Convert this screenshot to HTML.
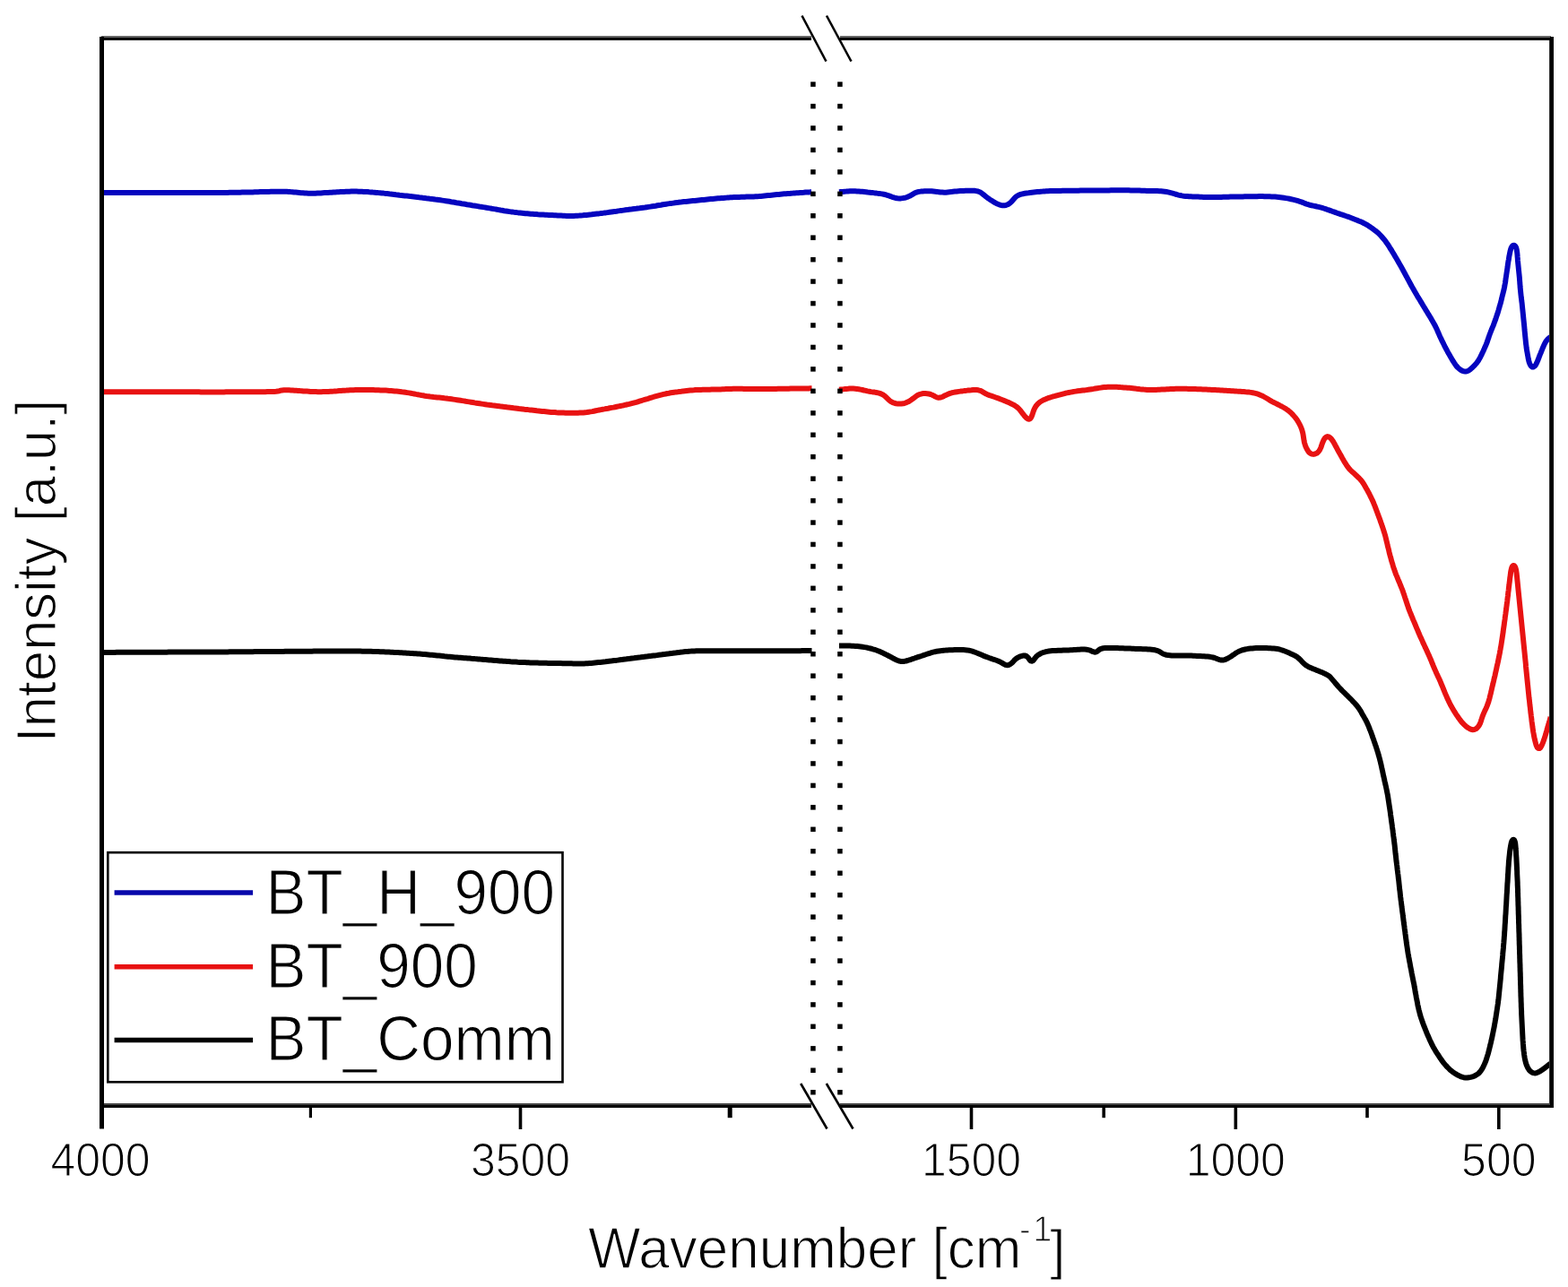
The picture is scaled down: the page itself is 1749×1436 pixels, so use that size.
<!DOCTYPE html>
<html><head><meta charset="utf-8"><title>FTIR spectra</title>
<style>
html,body{margin:0;padding:0;background:#fff;}
body{width:1749px;height:1436px;overflow:hidden;}
svg{display:block;}
text{font-family:"Liberation Sans",Arial,sans-serif;fill:#000;stroke:#fff;stroke-width:1.2px;}
</style></head><body>
<svg width="1749" height="1436" viewBox="0 0 1749 1436">
<rect width="1749" height="1436" fill="#fff"/>
<g fill="none" stroke-width="6" stroke-linejoin="round" stroke-linecap="butt">
<path d="M114.0 215.0L116.0 215.0 118.0 215.0 120.0 215.0 122.0 215.0 124.0 215.0 126.0 215.0 128.0 215.0 130.0 215.0 132.0 215.0 134.0 215.0 136.0 215.0 138.0 215.0 140.0 215.0 142.0 215.0 144.0 215.0 146.0 215.0 148.0 215.0 150.0 215.0 152.0 215.0 154.0 215.0 156.0 215.0 158.0 215.0 160.0 215.0 162.0 215.0 164.0 215.0 166.0 215.0 168.0 215.0 170.0 215.0 172.0 215.0 174.0 215.0 176.0 215.0 178.0 215.0 180.0 215.0 182.0 215.0 184.0 215.0 186.0 215.0 188.0 215.0 190.0 215.0 192.0 215.0 194.0 215.0 196.0 215.0 198.0 215.0 200.0 215.0 202.0 215.0 204.0 215.0 206.0 215.0 208.0 215.0 210.0 215.0 212.0 215.0 214.0 215.0 216.0 215.0 218.0 215.0 220.0 215.0 222.0 215.0 224.0 215.0 226.0 215.0 228.0 215.0 230.0 215.0 232.0 215.0 234.0 215.0 236.0 215.0 238.0 214.9 240.0 214.9 242.0 214.9 244.0 214.9 246.0 214.9 248.0 214.9 250.0 214.9 252.0 214.9 254.0 214.9 256.0 214.8 258.0 214.8 260.0 214.8 262.0 214.8 264.0 214.7 266.0 214.7 268.0 214.7 270.0 214.6 272.0 214.6 274.0 214.6 276.0 214.5 278.0 214.5 280.0 214.4 282.0 214.4 284.0 214.3 286.0 214.3 288.0 214.2 290.0 214.1 292.0 214.1 294.0 214.0 296.0 214.0 298.0 213.9 300.0 213.9 302.0 213.8 304.0 213.8 306.0 213.8 308.0 213.7 310.0 213.7 312.0 213.7 314.0 213.7 316.0 213.7 318.0 213.7 320.0 213.8 322.0 213.9 324.0 214.1 326.0 214.2 328.0 214.4 329.9 214.6 331.9 214.8 333.9 215.0 335.9 215.2 337.9 215.3 339.9 215.5 341.9 215.6 343.9 215.7 345.9 215.8 347.9 215.8 349.9 215.7 351.9 215.7 353.9 215.6 355.9 215.5 357.9 215.4 359.9 215.2 361.9 215.1 363.9 215.0 365.9 214.9 367.9 214.8 369.9 214.7 371.9 214.5 373.9 214.4 375.9 214.3 377.9 214.2 379.8 214.1 381.8 214.0 383.8 213.9 385.8 213.8 387.8 213.7 389.8 213.7 391.8 213.6 393.8 213.6 395.8 213.6 397.8 213.6 399.8 213.7 401.8 213.7 403.8 213.8 405.8 213.9 407.8 214.0 409.8 214.1 411.8 214.3 413.8 214.4 415.8 214.6 417.8 214.7 419.8 214.9 421.8 215.1 423.8 215.2 425.8 215.4 427.8 215.6 429.7 215.9 431.7 216.1 433.7 216.3 435.7 216.6 437.7 216.8 439.7 217.0 441.7 217.3 443.7 217.5 445.6 217.8 447.6 218.0 449.6 218.2 451.6 218.4 453.6 218.6 455.6 218.8 457.6 219.1 459.6 219.3 461.5 219.5 463.5 219.7 465.5 219.9 467.5 220.2 469.5 220.4 471.5 220.7 473.5 220.9 475.4 221.2 477.4 221.4 479.4 221.7 481.4 221.9 483.4 222.2 485.4 222.5 487.3 222.7 489.3 223.0 491.3 223.3 493.3 223.6 495.3 223.9 497.2 224.2 499.2 224.5 501.2 224.8 503.2 225.2 505.1 225.5 507.1 225.8 509.1 226.2 511.0 226.5 513.0 226.8 515.0 227.2 517.0 227.5 518.9 227.8 520.9 228.2 522.9 228.5 524.8 228.8 526.8 229.2 528.8 229.5 530.8 229.8 532.7 230.1 534.7 230.5 536.7 230.8 538.7 231.1 540.6 231.4 542.6 231.8 544.6 232.1 546.5 232.4 548.5 232.8 550.5 233.1 552.5 233.4 554.4 233.8 556.4 234.1 558.4 234.5 560.3 234.8 562.3 235.2 564.3 235.5 566.3 235.8 568.2 236.1 570.2 236.4 572.2 236.6 574.2 236.9 576.2 237.1 578.2 237.4 580.1 237.6 582.1 237.8 584.1 238.0 586.1 238.2 588.1 238.3 590.1 238.5 592.1 238.7 594.1 238.8 596.1 239.0 598.1 239.1 600.1 239.3 602.1 239.4 604.1 239.5 606.1 239.6 608.1 239.7 610.1 239.8 612.1 239.9 614.1 240.0 616.1 240.1 618.0 240.2 620.0 240.3 622.0 240.4 624.0 240.5 626.0 240.6 628.0 240.7 630.0 240.8 632.0 240.9 634.0 240.9 636.0 241.0 638.0 241.0 640.0 240.9 642.0 240.8 644.0 240.7 646.0 240.6 648.0 240.4 650.0 240.3 652.0 240.1 654.0 239.9 656.0 239.7 658.0 239.5 660.0 239.3 661.9 239.0 663.9 238.8 665.9 238.6 667.9 238.4 669.9 238.1 671.9 237.9 673.9 237.6 675.8 237.4 677.8 237.1 679.8 236.8 681.8 236.5 683.8 236.2 685.7 235.9 687.7 235.7 689.7 235.4 691.7 235.1 693.7 234.9 695.6 234.6 697.6 234.3 699.6 234.1 701.6 233.8 703.6 233.6 705.6 233.3 707.5 233.0 709.5 232.8 711.5 232.5 713.5 232.3 715.5 232.0 717.5 231.7 719.4 231.5 721.4 231.2 723.4 230.9 725.4 230.6 727.4 230.3 729.3 230.0 731.3 229.7 733.3 229.3 735.2 229.0 737.2 228.7 739.2 228.3 741.2 228.0 743.1 227.7 745.1 227.4 747.1 227.1 749.1 226.9 751.1 226.6 753.0 226.3 755.0 226.1 757.0 225.8 759.0 225.6 761.0 225.3 763.0 225.1 765.0 224.9 767.0 224.7 768.9 224.5 770.9 224.3 772.9 224.1 774.9 223.9 776.9 223.7 778.9 223.5 780.9 223.3 782.9 223.1 784.9 222.9 786.9 222.7 788.8 222.5 790.8 222.3 792.8 222.1 794.8 221.9 796.8 221.7 798.8 221.5 800.8 221.3 802.8 221.2 804.8 221.0 806.8 220.9 808.8 220.7 810.8 220.6 812.8 220.4 814.7 220.3 816.7 220.2 818.7 220.1 820.7 220.0 822.7 219.9 824.7 219.9 826.7 219.8 828.7 219.8 830.7 219.7 832.7 219.6 834.7 219.6 836.7 219.5 838.7 219.5 840.7 219.4 842.7 219.3 844.7 219.2 846.7 219.1 848.7 218.9 850.7 218.7 852.7 218.5 854.7 218.3 856.7 218.1 858.7 217.9 860.7 217.7 862.6 217.5 864.6 217.3 866.6 217.1 868.6 216.9 870.6 216.7 872.6 216.5 874.6 216.3 876.6 216.2 878.6 216.0 880.6 215.9 882.6 215.7 884.6 215.6 886.6 215.4 888.5 215.3 890.5 215.2 892.5 215.0 894.5 214.9 896.5 214.8 898.5 214.6 900.5 214.5 902.5 214.4 904.5 214.2 905.0 214.2" stroke="#0505bf"/>
<path d="M936.0 214.3L938.0 214.1 940.0 213.9 942.0 213.7 944.0 213.6 946.0 213.4 948.0 213.3 950.0 213.2 952.0 213.2 954.0 213.3 955.9 213.4 957.9 213.5 959.9 213.7 961.9 213.8 963.9 214.0 965.9 214.2 967.9 214.5 969.9 214.7 971.9 214.9 973.9 215.1 975.8 215.4 977.8 215.6 979.8 215.9 981.8 216.1 983.8 216.4 985.7 216.8 987.7 217.2 989.6 217.8 991.5 218.4 993.4 219.1 995.2 219.8 997.1 220.4 999.0 221.0 1001.0 221.3 1003.0 221.4 1005.0 221.4 1006.9 221.1 1008.9 220.8 1010.8 220.3 1012.7 219.6 1014.5 218.8 1016.2 217.8 1017.9 216.8 1019.6 215.8 1021.4 214.9 1023.3 214.3 1025.2 213.9 1027.2 213.6 1029.2 213.4 1031.2 213.3 1033.2 213.2 1035.2 213.2 1037.2 213.2 1039.2 213.3 1041.2 213.5 1043.2 213.7 1045.1 213.9 1047.1 214.2 1049.1 214.5 1051.1 214.6 1053.1 214.7 1055.1 214.7 1057.1 214.5 1059.1 214.3 1061.0 214.1 1063.0 213.8 1065.0 213.6 1067.0 213.4 1069.0 213.2 1071.0 213.1 1073.0 213.0 1075.0 212.9 1077.0 212.8 1079.0 212.7 1081.0 212.7 1083.0 212.7 1085.0 212.7 1087.0 212.8 1088.9 213.1 1090.9 213.5 1092.7 214.2 1094.4 215.1 1096.0 216.3 1097.6 217.6 1099.1 218.9 1100.7 220.1 1102.3 221.3 1103.9 222.4 1105.6 223.5 1107.3 224.6 1109.0 225.6 1110.7 226.6 1112.5 227.5 1114.3 228.2 1116.2 228.9 1118.1 229.3 1120.1 229.3 1122.0 229.0 1123.8 228.3 1125.5 227.3 1127.1 226.1 1128.5 224.8 1129.8 223.3 1131.1 221.8 1132.4 220.3 1133.9 219.0 1135.6 218.0 1137.4 217.2 1139.3 216.6 1141.2 216.2 1143.2 215.8 1145.2 215.5 1147.2 215.3 1149.2 215.0 1151.1 214.7 1153.1 214.5 1155.1 214.3 1157.1 214.1 1159.1 213.9 1161.1 213.7 1163.1 213.6 1165.1 213.4 1167.1 213.3 1169.1 213.2 1171.1 213.1 1173.1 213.0 1175.1 213.0 1177.1 212.9 1179.1 212.9 1181.1 212.9 1183.1 212.9 1185.1 212.8 1187.1 212.8 1189.1 212.8 1191.1 212.8 1193.1 212.8 1195.1 212.7 1197.1 212.7 1199.1 212.7 1201.1 212.7 1203.1 212.7 1205.1 212.6 1207.1 212.6 1209.1 212.6 1211.1 212.6 1213.1 212.6 1215.1 212.5 1217.1 212.5 1219.1 212.5 1221.1 212.5 1223.1 212.5 1225.1 212.4 1227.1 212.4 1229.1 212.4 1231.1 212.4 1233.1 212.4 1235.1 212.4 1237.1 212.4 1239.1 212.3 1241.1 212.3 1243.1 212.3 1245.1 212.3 1247.1 212.3 1249.1 212.3 1251.1 212.3 1253.1 212.3 1255.1 212.3 1257.1 212.3 1259.1 212.3 1261.1 212.4 1263.1 212.4 1265.1 212.4 1267.1 212.5 1269.1 212.5 1271.1 212.6 1273.1 212.7 1275.1 212.7 1277.1 212.8 1279.1 212.9 1281.0 212.9 1283.0 213.0 1285.0 213.0 1287.0 213.0 1289.0 213.1 1291.0 213.1 1293.0 213.2 1295.0 213.3 1297.0 213.5 1299.0 213.7 1301.0 214.0 1302.9 214.4 1304.9 214.9 1306.8 215.4 1308.8 215.9 1310.7 216.5 1312.6 217.0 1314.5 217.6 1316.5 218.0 1318.4 218.4 1320.4 218.7 1322.4 218.9 1324.4 219.0 1326.4 219.2 1328.4 219.3 1330.4 219.4 1332.4 219.5 1334.4 219.6 1336.4 219.6 1338.4 219.7 1340.4 219.8 1342.4 219.9 1344.4 219.9 1346.4 220.0 1348.4 220.0 1350.4 220.1 1352.4 220.1 1354.4 220.1 1356.4 220.1 1358.4 220.1 1360.4 220.0 1362.4 219.9 1364.4 219.8 1366.3 219.8 1368.3 219.7 1370.3 219.7 1372.3 219.6 1374.3 219.6 1376.3 219.5 1378.3 219.5 1380.3 219.5 1382.3 219.4 1384.3 219.4 1386.3 219.4 1388.3 219.3 1390.3 219.3 1392.3 219.3 1394.3 219.2 1396.3 219.2 1398.3 219.2 1400.3 219.2 1402.3 219.2 1404.3 219.1 1406.3 219.1 1408.3 219.1 1410.3 219.2 1412.3 219.2 1414.3 219.2 1416.3 219.3 1418.3 219.4 1420.3 219.5 1422.3 219.6 1424.3 219.8 1426.3 220.0 1428.3 220.2 1430.3 220.5 1432.3 220.8 1434.2 221.1 1436.2 221.4 1438.2 221.8 1440.1 222.2 1442.1 222.6 1444.0 223.1 1446.0 223.6 1447.9 224.2 1449.8 224.8 1451.7 225.4 1453.5 226.1 1455.4 226.9 1457.2 227.6 1459.1 228.2 1461.1 228.8 1463.0 229.2 1465.0 229.6 1466.9 230.0 1468.9 230.5 1470.8 230.9 1472.8 231.4 1474.7 231.9 1476.6 232.5 1478.5 233.1 1480.4 233.8 1482.3 234.4 1484.2 235.1 1486.1 235.8 1487.9 236.4 1489.8 237.1 1491.7 237.8 1493.6 238.4 1495.5 239.1 1497.4 239.7 1499.3 240.3 1501.2 241.0 1503.1 241.6 1505.0 242.3 1506.8 243.0 1508.7 243.7 1510.6 244.5 1512.4 245.2 1514.3 245.9 1516.1 246.7 1518.0 247.4 1519.8 248.3 1521.6 249.2 1523.4 250.1 1525.1 251.1 1526.8 252.2 1528.4 253.3 1530.1 254.4 1531.7 255.6 1533.3 256.8 1534.9 258.0 1536.4 259.3 1537.9 260.6 1539.3 262.0 1540.7 263.5 1542.0 265.0 1543.3 266.5 1544.6 268.0 1545.8 269.6 1546.9 271.3 1548.1 272.9 1549.2 274.6 1550.2 276.3 1551.3 278.0 1552.4 279.7 1553.4 281.4 1554.4 283.1 1555.4 284.8 1556.4 286.5 1557.5 288.3 1558.5 290.0 1559.5 291.7 1560.5 293.5 1561.5 295.2 1562.5 296.9 1563.5 298.7 1564.4 300.4 1565.4 302.2 1566.3 303.9 1567.3 305.7 1568.2 307.5 1569.2 309.2 1570.1 311.0 1571.1 312.7 1572.0 314.5 1573.0 316.3 1573.9 318.0 1574.9 319.8 1575.9 321.5 1576.9 323.2 1577.9 325.0 1578.9 326.7 1579.9 328.4 1580.9 330.2 1581.9 331.9 1583.0 333.6 1584.0 335.3 1585.0 337.0 1586.1 338.7 1587.1 340.4 1588.1 342.1 1589.2 343.8 1590.2 345.6 1591.3 347.3 1592.3 349.0 1593.3 350.7 1594.4 352.4 1595.4 354.1 1596.4 355.8 1597.4 357.6 1598.4 359.3 1599.4 361.0 1600.4 362.8 1601.3 364.5 1602.2 366.3 1603.0 368.1 1603.8 370.0 1604.6 371.8 1605.4 373.7 1606.2 375.5 1607.1 377.3 1607.9 379.1 1608.8 380.9 1609.7 382.7 1610.6 384.5 1611.5 386.3 1612.4 388.0 1613.3 389.8 1614.3 391.6 1615.2 393.3 1616.2 395.1 1617.2 396.8 1618.2 398.6 1619.2 400.3 1620.2 402.0 1621.3 403.7 1622.4 405.4 1623.5 407.0 1624.7 408.6 1626.1 410.1 1627.5 411.4 1629.1 412.6 1630.8 413.6 1632.6 414.3 1634.5 414.5 1636.3 414.2 1638.1 413.5 1639.7 412.4 1641.2 411.1 1642.7 409.7 1644.1 408.3 1645.5 406.9 1646.8 405.4 1648.0 403.8 1649.1 402.2 1650.1 400.4 1651.1 398.7 1652.0 396.9 1652.9 395.1 1653.7 393.3 1654.6 391.5 1655.4 389.6 1656.2 387.8 1657.0 386.0 1657.8 384.1 1658.5 382.3 1659.2 380.4 1659.8 378.5 1660.5 376.6 1661.1 374.7 1661.8 372.8 1662.5 371.0 1663.2 369.1 1664.0 367.3 1664.7 365.4 1665.5 363.6 1666.2 361.7 1666.9 359.8 1667.6 357.9 1668.3 356.1 1668.9 354.2 1669.5 352.3 1670.2 350.4 1670.8 348.5 1671.4 346.5 1671.9 344.6 1672.5 342.7 1673.0 340.8 1673.6 338.9 1674.1 336.9 1674.6 335.0 1675.1 333.0 1675.5 331.1 1676.0 329.2 1676.5 327.2 1677.0 325.3 1677.5 323.3 1677.9 321.4 1678.3 319.4 1678.6 317.5 1679.0 315.5 1679.3 313.5 1679.5 311.5 1679.8 309.6 1680.1 307.6 1680.4 305.6 1680.7 303.6 1681.0 301.6 1681.3 299.7 1681.6 297.7 1681.8 295.7 1682.1 293.7 1682.4 291.7 1682.8 289.8 1683.1 287.8 1683.4 285.8 1683.8 283.9 1684.2 281.9 1684.6 279.9 1685.1 278.0 1685.8 276.2 1686.7 274.6 1687.9 273.7 1689.2 273.8 1690.4 274.8 1691.2 276.4 1691.7 278.3 1692.0 280.3 1692.3 282.2 1692.5 284.2 1692.6 286.2 1692.8 288.2 1692.9 290.2 1693.1 292.2 1693.3 294.2 1693.5 296.2 1693.7 298.2 1693.9 300.2 1694.1 302.2 1694.3 304.2 1694.5 306.1 1694.7 308.1 1694.9 310.1 1695.0 312.1 1695.2 314.1 1695.3 316.1 1695.5 318.1 1695.6 320.1 1695.8 322.1 1696.0 324.1 1696.2 326.1 1696.4 328.1 1696.6 330.0 1696.8 332.0 1697.1 334.0 1697.3 336.0 1697.6 338.0 1697.8 340.0 1698.0 342.0 1698.2 344.0 1698.4 345.9 1698.6 347.9 1698.8 349.9 1699.0 351.9 1699.2 353.9 1699.4 355.9 1699.6 357.9 1699.8 359.9 1700.0 361.9 1700.2 363.9 1700.4 365.9 1700.5 367.8 1700.7 369.8 1700.9 371.8 1701.1 373.8 1701.3 375.8 1701.5 377.8 1701.7 379.8 1701.9 381.8 1702.1 383.8 1702.4 385.7 1702.6 387.7 1702.9 389.7 1703.2 391.7 1703.6 393.7 1703.9 395.6 1704.3 397.6 1704.6 399.6 1705.0 401.5 1705.5 403.5 1706.1 405.3 1706.9 407.1 1707.9 408.6 1709.2 409.5 1710.6 409.4 1712.0 408.4 1713.1 406.9 1714.0 405.2 1714.8 403.4 1715.6 401.5 1716.3 399.7 1717.0 397.8 1717.7 395.9 1718.5 394.1 1719.2 392.2 1720.0 390.4 1720.7 388.5 1721.5 386.7 1722.3 384.8 1723.2 383.0 1724.2 381.3 1725.3 379.7 1726.6 378.3 1728.1 377.0 1729.6 375.9 1730.0 375.6" stroke="#0505bf"/>
<path d="M114.0 437.2L116.0 437.2 118.0 437.2 120.0 437.2 122.0 437.2 124.0 437.2 126.0 437.2 128.0 437.2 130.0 437.2 132.0 437.2 134.0 437.2 136.0 437.2 138.0 437.2 140.0 437.2 142.0 437.2 144.0 437.2 146.0 437.2 148.0 437.2 150.0 437.2 152.0 437.3 154.0 437.3 156.0 437.3 158.0 437.3 160.0 437.3 162.0 437.3 164.0 437.3 166.0 437.3 168.0 437.3 170.0 437.3 172.0 437.3 174.0 437.3 176.0 437.3 178.0 437.3 180.0 437.3 182.0 437.3 184.0 437.3 186.0 437.3 188.0 437.3 190.0 437.3 192.0 437.3 194.0 437.3 196.0 437.3 198.0 437.3 200.0 437.3 202.0 437.3 204.0 437.3 206.0 437.3 208.0 437.3 210.0 437.3 212.0 437.3 214.0 437.3 216.0 437.3 218.0 437.3 220.0 437.3 222.0 437.3 224.0 437.4 226.0 437.4 228.0 437.4 230.0 437.4 232.0 437.4 234.0 437.4 236.0 437.4 238.0 437.4 240.0 437.4 242.0 437.4 244.0 437.4 246.0 437.4 248.0 437.4 250.0 437.4 252.0 437.3 254.0 437.3 256.0 437.3 258.0 437.3 260.0 437.3 262.0 437.3 264.0 437.3 266.0 437.3 268.0 437.3 270.0 437.3 272.0 437.3 274.0 437.3 276.0 437.3 278.0 437.3 280.0 437.3 282.0 437.3 284.0 437.3 286.0 437.3 288.0 437.2 290.0 437.2 292.0 437.2 294.0 437.2 296.0 437.2 298.0 437.1 300.0 437.1 302.0 437.0 304.0 437.0 306.0 436.9 308.0 436.8 309.9 436.5 311.6 436.2 313.2 435.7 314.8 435.4 316.6 435.2 318.5 435.2 320.5 435.2 322.5 435.3 324.5 435.4 326.5 435.5 328.5 435.7 330.5 435.8 332.5 435.9 334.5 436.1 336.5 436.2 338.5 436.4 340.5 436.5 342.5 436.6 344.4 436.7 346.4 436.9 348.4 437.0 350.4 437.0 352.4 437.1 354.4 437.2 356.4 437.2 358.4 437.2 360.4 437.1 362.4 437.1 364.4 437.0 366.4 436.9 368.4 436.8 370.4 436.7 372.4 436.6 374.4 436.4 376.4 436.3 378.4 436.1 380.4 436.0 382.4 435.8 384.4 435.7 386.4 435.6 388.4 435.4 390.4 435.3 392.4 435.2 394.4 435.2 396.4 435.1 398.4 435.1 400.4 435.0 402.4 435.0 404.4 435.0 406.4 435.0 408.4 435.0 410.4 435.0 412.4 435.1 414.4 435.1 416.4 435.1 418.4 435.2 420.4 435.2 422.4 435.3 424.4 435.4 426.4 435.4 428.4 435.5 430.4 435.6 432.4 435.7 434.4 435.9 436.4 436.0 438.3 436.2 440.3 436.4 442.3 436.6 444.3 436.8 446.3 437.0 448.3 437.3 450.3 437.5 452.2 437.8 454.2 438.1 456.2 438.4 458.2 438.7 460.1 439.1 462.1 439.5 464.1 439.9 466.0 440.2 468.0 440.6 470.0 441.0 471.9 441.3 473.9 441.7 475.9 442.0 477.9 442.2 479.8 442.5 481.8 442.7 483.8 443.0 485.8 443.2 487.8 443.4 489.8 443.6 491.8 443.8 493.8 444.0 495.7 444.3 497.7 444.5 499.7 444.8 501.7 445.0 503.7 445.3 505.7 445.6 507.6 445.9 509.6 446.2 511.6 446.5 513.6 446.8 515.5 447.1 517.5 447.4 519.5 447.8 521.5 448.1 523.4 448.4 525.4 448.7 527.4 449.0 529.4 449.4 531.3 449.7 533.3 450.0 535.3 450.3 537.3 450.6 539.2 450.9 541.2 451.2 543.2 451.5 545.2 451.7 547.2 452.0 549.1 452.3 551.1 452.5 553.1 452.8 555.1 453.1 557.1 453.3 559.1 453.6 561.0 453.8 563.0 454.1 565.0 454.3 567.0 454.6 569.0 454.8 571.0 455.0 573.0 455.3 574.9 455.5 576.9 455.7 578.9 456.0 580.9 456.2 582.9 456.4 584.9 456.7 586.9 456.9 588.8 457.1 590.8 457.4 592.8 457.6 594.8 457.8 596.8 458.0 598.8 458.3 600.8 458.5 602.8 458.7 604.7 458.9 606.7 459.1 608.7 459.3 610.7 459.5 612.7 459.7 614.7 459.9 616.7 460.0 618.7 460.1 620.7 460.3 622.7 460.4 624.7 460.5 626.7 460.6 628.7 460.6 630.7 460.7 632.7 460.7 634.7 460.8 636.7 460.8 638.7 460.8 640.7 460.8 642.7 460.8 644.7 460.7 646.7 460.6 648.7 460.5 650.7 460.4 652.7 460.2 654.6 460.0 656.6 459.7 658.6 459.4 660.6 459.1 662.5 458.7 664.5 458.3 666.4 457.9 668.4 457.5 670.4 457.1 672.3 456.7 674.3 456.4 676.3 456.0 678.2 455.7 680.2 455.3 682.2 454.9 684.1 454.6 686.1 454.2 688.1 453.8 690.0 453.4 692.0 453.0 693.9 452.6 695.9 452.2 697.9 451.7 699.8 451.3 701.8 450.9 703.7 450.4 705.6 449.9 707.6 449.4 709.5 448.9 711.4 448.3 713.3 447.7 715.2 447.1 717.1 446.5 719.1 445.9 721.0 445.3 722.9 444.8 724.8 444.2 726.7 443.6 728.6 443.0 730.5 442.4 732.5 441.9 734.4 441.4 736.3 440.9 738.3 440.4 740.2 439.9 742.2 439.5 744.1 439.0 746.1 438.7 748.0 438.3 750.0 438.0 752.0 437.7 754.0 437.4 756.0 437.2 757.9 436.9 759.9 436.7 761.9 436.4 763.9 436.2 765.9 436.0 767.9 435.8 769.9 435.6 771.9 435.4 773.9 435.3 775.9 435.1 777.8 435.0 779.8 434.9 781.8 434.9 783.8 434.8 785.8 434.8 787.8 434.7 789.8 434.7 791.8 434.7 793.8 434.6 795.8 434.6 797.8 434.6 799.8 434.5 801.8 434.5 803.8 434.4 805.8 434.3 807.8 434.2 809.8 434.1 811.8 434.0 813.8 433.9 815.8 433.9 817.8 433.8 819.8 433.8 821.8 433.8 823.8 433.8 825.8 433.8 827.8 433.8 829.8 433.9 831.8 433.9 833.8 433.9 835.8 433.9 837.8 434.0 839.8 434.0 841.8 434.0 843.8 434.0 845.8 434.0 847.8 434.0 849.8 434.0 851.8 434.0 853.8 434.0 855.8 434.0 857.8 433.9 859.8 433.9 861.8 433.9 863.8 433.9 865.8 433.9 867.8 433.8 869.8 433.8 871.8 433.8 873.8 433.8 875.8 433.7 877.8 433.7 879.8 433.7 881.8 433.6 883.8 433.6 885.8 433.6 887.8 433.6 889.8 433.5 891.8 433.5 893.8 433.5 895.8 433.4 897.8 433.4 899.8 433.4 901.8 433.4 903.7 433.3 905.5 433.3" stroke="#e81212"/>
<path d="M936.0 434.8L938.0 434.6 940.0 434.4 942.0 434.1 944.0 433.9 945.9 433.8 947.9 433.6 949.9 433.5 951.9 433.6 953.9 433.7 955.9 433.9 957.9 434.2 959.8 434.6 961.8 435.0 963.7 435.5 965.7 435.9 967.6 436.4 969.6 436.7 971.6 437.1 973.5 437.4 975.5 437.6 977.5 438.0 979.5 438.4 981.4 438.9 983.2 439.6 985.0 440.5 986.6 441.6 988.1 442.9 989.5 444.3 990.9 445.8 992.4 447.1 994.0 448.2 995.7 449.1 997.6 449.8 999.5 450.2 1001.5 450.5 1003.5 450.6 1005.5 450.5 1007.4 450.3 1009.3 449.8 1011.2 449.1 1013.0 448.3 1014.7 447.3 1016.4 446.2 1018.0 445.0 1019.6 443.8 1021.2 442.6 1022.8 441.4 1024.5 440.5 1026.3 439.8 1028.3 439.3 1030.2 439.1 1032.2 439.1 1034.2 439.2 1036.2 439.5 1038.1 440.0 1039.9 440.7 1041.7 441.6 1043.4 442.6 1045.1 443.4 1047.0 443.8 1048.8 443.6 1050.7 443.0 1052.5 442.2 1054.2 441.2 1056.0 440.4 1057.9 439.6 1059.7 438.9 1061.6 438.3 1063.6 437.9 1065.5 437.5 1067.5 437.2 1069.5 436.9 1071.5 436.6 1073.5 436.4 1075.4 436.1 1077.4 435.9 1079.4 435.6 1081.4 435.4 1083.4 435.3 1085.4 435.1 1087.4 435.0 1089.4 435.1 1091.3 435.3 1093.2 435.8 1095.0 436.6 1096.7 437.6 1098.4 438.6 1100.1 439.6 1102.0 440.4 1103.8 441.1 1105.7 441.7 1107.6 442.3 1109.5 443.0 1111.4 443.7 1113.3 444.3 1115.1 445.1 1117.0 445.8 1118.9 446.5 1120.7 447.3 1122.6 448.1 1124.4 448.8 1126.2 449.6 1128.0 450.5 1129.8 451.4 1131.6 452.3 1133.3 453.4 1134.8 454.6 1136.3 455.9 1137.6 457.4 1138.9 459.0 1140.1 460.6 1141.3 462.2 1142.5 463.7 1143.8 465.2 1145.2 466.6 1146.6 467.5 1148.1 467.7 1149.4 466.9 1150.4 465.4 1151.1 463.6 1151.8 461.7 1152.4 459.8 1153.1 457.9 1153.8 456.1 1154.8 454.3 1155.8 452.7 1157.1 451.2 1158.5 449.8 1160.1 448.5 1161.8 447.5 1163.5 446.5 1165.3 445.7 1167.2 444.9 1169.0 444.2 1170.9 443.6 1172.8 443.0 1174.7 442.4 1176.7 441.9 1178.6 441.3 1180.5 440.8 1182.5 440.3 1184.4 439.8 1186.3 439.3 1188.3 438.8 1190.2 438.4 1192.2 438.0 1194.2 437.6 1196.1 437.3 1198.1 436.9 1200.1 436.6 1202.0 436.3 1204.0 436.1 1206.0 435.8 1208.0 435.6 1210.0 435.4 1212.0 435.1 1214.0 434.8 1215.9 434.5 1217.9 434.2 1219.9 433.9 1221.8 433.5 1223.8 433.2 1225.8 432.9 1227.8 432.6 1229.8 432.3 1231.7 432.1 1233.7 431.9 1235.7 431.8 1237.7 431.7 1239.7 431.7 1241.7 431.7 1243.7 431.7 1245.7 431.8 1247.7 431.9 1249.7 432.1 1251.7 432.2 1253.7 432.4 1255.7 432.5 1257.7 432.7 1259.7 432.8 1261.7 433.0 1263.7 433.2 1265.6 433.4 1267.6 433.7 1269.6 433.9 1271.6 434.2 1273.6 434.4 1275.6 434.6 1277.6 434.7 1279.6 434.9 1281.6 434.9 1283.6 435.0 1285.6 435.0 1287.6 434.9 1289.6 434.9 1291.6 434.8 1293.6 434.7 1295.6 434.6 1297.6 434.5 1299.5 434.4 1301.5 434.3 1303.5 434.2 1305.5 434.1 1307.5 434.0 1309.5 433.9 1311.5 433.8 1313.5 433.8 1315.5 433.8 1317.5 433.8 1319.5 433.8 1321.5 433.8 1323.5 433.8 1325.5 433.9 1327.5 433.9 1329.5 434.0 1331.5 434.0 1333.5 434.1 1335.5 434.2 1337.5 434.2 1339.5 434.3 1341.5 434.4 1343.5 434.5 1345.5 434.6 1347.5 434.7 1349.5 434.8 1351.5 434.9 1353.5 435.0 1355.5 435.1 1357.5 435.2 1359.5 435.3 1361.5 435.4 1363.5 435.5 1365.5 435.7 1367.5 435.8 1369.5 435.9 1371.5 436.0 1373.5 436.2 1375.5 436.3 1377.5 436.4 1379.5 436.6 1381.5 436.7 1383.5 436.8 1385.4 437.0 1387.4 437.1 1389.4 437.3 1391.4 437.4 1393.4 437.6 1395.4 437.9 1397.4 438.2 1399.3 438.6 1401.3 439.1 1403.2 439.7 1405.0 440.4 1406.9 441.2 1408.7 442.0 1410.4 443.0 1412.2 444.0 1413.9 445.0 1415.6 446.1 1417.3 447.1 1419.0 448.1 1420.8 449.0 1422.6 449.9 1424.4 450.8 1426.2 451.7 1427.9 452.6 1429.7 453.5 1431.5 454.5 1433.2 455.5 1434.9 456.6 1436.5 457.7 1438.1 459.0 1439.6 460.3 1441.0 461.6 1442.4 463.1 1443.7 464.6 1445.0 466.1 1446.2 467.7 1447.3 469.4 1448.3 471.1 1449.3 472.9 1450.2 474.6 1451.0 476.4 1451.8 478.3 1452.4 480.2 1452.9 482.1 1453.4 484.1 1453.7 486.0 1454.0 488.0 1454.3 490.0 1454.6 491.9 1455.0 493.9 1455.6 495.8 1456.2 497.7 1457.0 499.5 1457.9 501.3 1458.9 503.0 1460.1 504.6 1461.5 505.8 1463.2 506.6 1465.0 506.9 1466.8 506.5 1468.6 505.8 1470.1 504.6 1471.4 503.1 1472.4 501.4 1473.2 499.6 1473.9 497.8 1474.5 495.9 1475.2 494.0 1476.0 492.1 1476.8 490.4 1477.9 488.8 1479.2 487.6 1480.7 487.1 1482.3 487.5 1483.8 488.5 1485.1 489.9 1486.3 491.5 1487.4 493.2 1488.4 494.9 1489.3 496.7 1490.3 498.5 1491.2 500.2 1492.1 502.0 1493.1 503.7 1494.1 505.5 1495.1 507.2 1496.1 509.0 1497.0 510.7 1498.0 512.4 1499.0 514.2 1500.0 515.9 1501.1 517.6 1502.1 519.3 1503.3 520.9 1504.5 522.5 1505.8 524.0 1507.2 525.4 1508.7 526.8 1510.2 528.1 1511.7 529.4 1513.1 530.8 1514.6 532.2 1516.0 533.5 1517.4 535.0 1518.7 536.5 1519.9 538.1 1521.0 539.8 1522.0 541.5 1523.0 543.2 1524.0 545.0 1525.0 546.7 1525.9 548.5 1526.9 550.2 1527.8 552.0 1528.7 553.8 1529.6 555.6 1530.4 557.4 1531.3 559.2 1532.1 561.0 1532.8 562.9 1533.6 564.7 1534.3 566.6 1535.0 568.5 1535.7 570.3 1536.4 572.2 1537.1 574.1 1537.8 576.0 1538.5 577.9 1539.2 579.7 1539.8 581.6 1540.5 583.5 1541.2 585.4 1541.8 587.3 1542.5 589.2 1543.1 591.1 1543.7 593.0 1544.3 594.9 1544.9 596.8 1545.4 598.7 1545.9 600.7 1546.3 602.6 1546.8 604.6 1547.3 606.5 1547.7 608.5 1548.2 610.4 1548.7 612.3 1549.2 614.3 1549.6 616.2 1550.1 618.2 1550.6 620.1 1551.2 622.0 1551.7 624.0 1552.2 625.9 1552.8 627.8 1553.4 629.7 1553.9 631.6 1554.5 633.5 1555.2 635.4 1555.8 637.3 1556.5 639.2 1557.2 641.1 1558.0 642.9 1558.8 644.8 1559.5 646.6 1560.3 648.5 1561.1 650.3 1561.8 652.2 1562.6 654.0 1563.3 655.9 1564.1 657.7 1564.8 659.6 1565.4 661.5 1566.1 663.4 1566.7 665.3 1567.3 667.2 1568.0 669.1 1568.6 671.0 1569.2 672.9 1569.8 674.8 1570.5 676.7 1571.1 678.6 1571.8 680.4 1572.5 682.3 1573.3 684.2 1574.0 686.0 1574.8 687.9 1575.6 689.7 1576.3 691.6 1577.1 693.4 1577.9 695.2 1578.7 697.1 1579.4 698.9 1580.2 700.8 1581.0 702.6 1581.8 704.5 1582.5 706.3 1583.3 708.1 1584.1 710.0 1585.0 711.8 1585.8 713.6 1586.6 715.4 1587.4 717.3 1588.3 719.1 1589.1 720.9 1589.9 722.7 1590.8 724.5 1591.6 726.3 1592.4 728.2 1593.3 730.0 1594.1 731.8 1594.9 733.6 1595.7 735.5 1596.5 737.3 1597.2 739.2 1598.0 741.0 1598.7 742.9 1599.5 744.7 1600.3 746.6 1601.1 748.4 1601.9 750.2 1602.7 752.0 1603.6 753.9 1604.4 755.7 1605.3 757.5 1606.1 759.3 1606.9 761.1 1607.6 763.0 1608.4 764.8 1609.2 766.7 1609.9 768.5 1610.7 770.4 1611.4 772.2 1612.2 774.1 1613.0 775.9 1613.8 777.7 1614.6 779.6 1615.5 781.4 1616.3 783.2 1617.2 785.0 1618.1 786.8 1619.1 788.5 1620.1 790.3 1621.1 792.0 1622.1 793.7 1623.2 795.4 1624.3 797.1 1625.4 798.7 1626.5 800.4 1627.7 802.0 1628.9 803.6 1630.1 805.2 1631.4 806.7 1632.8 808.1 1634.2 809.5 1635.8 810.8 1637.4 812.0 1639.1 813.0 1640.8 813.8 1642.7 814.2 1644.5 814.0 1646.2 813.3 1647.7 812.1 1649.0 810.6 1650.1 809.0 1651.0 807.2 1651.7 805.3 1652.3 803.5 1652.9 801.5 1653.5 799.6 1654.2 797.8 1655.0 795.9 1655.8 794.1 1656.6 792.3 1657.5 790.5 1658.3 788.6 1659.0 786.8 1659.7 784.9 1660.4 783.0 1660.9 781.1 1661.5 779.2 1661.9 777.2 1662.4 775.3 1662.9 773.4 1663.3 771.4 1663.8 769.5 1664.2 767.5 1664.7 765.6 1665.2 763.6 1665.6 761.7 1666.1 759.7 1666.5 757.8 1667.0 755.8 1667.5 753.9 1667.9 751.9 1668.3 750.0 1668.8 748.0 1669.2 746.1 1669.6 744.1 1670.0 742.2 1670.5 740.2 1670.9 738.3 1671.3 736.3 1671.7 734.3 1672.1 732.4 1672.5 730.4 1672.9 728.5 1673.2 726.5 1673.6 724.5 1673.9 722.5 1674.3 720.6 1674.6 718.6 1674.9 716.6 1675.2 714.7 1675.5 712.7 1675.8 710.7 1676.1 708.7 1676.4 706.7 1676.7 704.8 1676.9 702.8 1677.2 700.8 1677.5 698.8 1677.8 696.8 1678.0 694.9 1678.3 692.9 1678.6 690.9 1678.8 688.9 1679.1 686.9 1679.4 684.9 1679.6 683.0 1679.9 681.0 1680.2 679.0 1680.4 677.0 1680.7 675.0 1680.9 673.0 1681.2 671.1 1681.4 669.1 1681.6 667.1 1681.9 665.1 1682.1 663.1 1682.3 661.1 1682.6 659.1 1682.8 657.2 1683.0 655.2 1683.3 653.2 1683.5 651.2 1683.8 649.2 1684.0 647.2 1684.2 645.2 1684.5 643.3 1684.8 641.3 1685.0 639.3 1685.3 637.3 1685.7 635.4 1686.2 633.5 1686.9 631.9 1687.9 631.0 1689.0 631.2 1690.0 632.4 1690.6 634.1 1691.1 636.0 1691.4 638.0 1691.7 640.0 1691.9 642.0 1692.1 643.9 1692.3 645.9 1692.5 647.9 1692.7 649.9 1692.9 651.9 1693.1 653.9 1693.3 655.9 1693.5 657.9 1693.7 659.9 1693.9 661.9 1694.1 663.9 1694.3 665.8 1694.5 667.8 1694.7 669.8 1694.9 671.8 1695.1 673.8 1695.3 675.8 1695.5 677.8 1695.7 679.8 1695.9 681.8 1696.1 683.7 1696.3 685.7 1696.5 687.7 1696.7 689.7 1696.9 691.7 1697.1 693.7 1697.3 695.7 1697.5 697.7 1697.7 699.7 1697.9 701.7 1698.1 703.6 1698.3 705.6 1698.5 707.6 1698.7 709.6 1698.9 711.6 1699.1 713.6 1699.3 715.6 1699.5 717.6 1699.7 719.6 1699.9 721.6 1700.1 723.6 1700.3 725.5 1700.5 727.5 1700.7 729.5 1700.9 731.5 1701.1 733.5 1701.3 735.5 1701.5 737.5 1701.7 739.5 1701.9 741.5 1702.0 743.5 1702.2 745.4 1702.4 747.4 1702.6 749.4 1702.8 751.4 1703.0 753.4 1703.2 755.4 1703.4 757.4 1703.6 759.4 1703.8 761.4 1704.0 763.4 1704.2 765.3 1704.4 767.3 1704.6 769.3 1704.8 771.3 1705.0 773.3 1705.2 775.3 1705.4 777.3 1705.6 779.3 1705.9 781.3 1706.1 783.2 1706.3 785.2 1706.5 787.2 1706.8 789.2 1707.0 791.2 1707.2 793.2 1707.4 795.2 1707.7 797.2 1707.9 799.1 1708.2 801.1 1708.4 803.1 1708.6 805.1 1708.9 807.1 1709.2 809.1 1709.4 811.0 1709.7 813.0 1710.0 815.0 1710.3 817.0 1710.7 819.0 1711.0 820.9 1711.4 822.9 1711.8 824.8 1712.3 826.8 1712.8 828.7 1713.3 830.6 1714.0 832.5 1714.8 834.1 1715.9 835.1 1717.1 835.1 1718.3 834.1 1719.3 832.5 1720.1 830.7 1720.9 828.9 1721.6 827.0 1722.3 825.1 1722.9 823.2 1723.5 821.3 1724.1 819.4 1724.6 817.5 1725.2 815.6 1725.7 813.6 1726.3 811.7 1726.8 809.8 1727.4 807.9 1727.9 806.0 1728.5 804.1 1729.0 802.2 1729.5 800.4 1729.6 800.0" stroke="#e81212"/>
<path d="M114.0 727.9L116.0 727.9 118.0 727.9 120.0 727.9 122.0 727.9 124.0 727.9 126.0 727.9 128.0 727.9 130.0 727.8 132.0 727.8 134.0 727.8 136.0 727.8 138.0 727.8 140.0 727.8 142.0 727.8 144.0 727.8 146.0 727.8 148.0 727.8 150.0 727.8 152.0 727.8 154.0 727.8 156.0 727.8 158.0 727.8 160.0 727.7 162.0 727.7 164.0 727.7 166.0 727.7 168.0 727.7 170.0 727.7 172.0 727.7 174.0 727.7 176.0 727.7 178.0 727.7 180.0 727.7 182.0 727.7 184.0 727.7 186.0 727.7 188.0 727.6 190.0 727.6 192.0 727.6 194.0 727.6 196.0 727.6 198.0 727.6 200.0 727.6 202.0 727.6 204.0 727.6 206.0 727.6 208.0 727.6 210.0 727.6 212.0 727.6 214.0 727.5 216.0 727.5 218.0 727.5 220.0 727.5 222.0 727.5 224.0 727.5 226.0 727.5 228.0 727.5 230.0 727.5 232.0 727.5 234.0 727.5 236.0 727.5 238.0 727.4 240.0 727.4 242.0 727.4 244.0 727.4 246.0 727.4 248.0 727.4 250.0 727.4 252.0 727.4 254.0 727.4 256.0 727.3 258.0 727.3 260.0 727.3 262.0 727.3 264.0 727.3 266.0 727.3 268.0 727.3 270.0 727.2 272.0 727.2 274.0 727.2 276.0 727.2 278.0 727.2 280.0 727.2 282.0 727.2 284.0 727.1 286.0 727.1 288.0 727.1 290.0 727.1 292.0 727.1 294.0 727.0 296.0 727.0 298.0 727.0 300.0 727.0 302.0 727.0 304.0 727.0 306.0 726.9 308.0 726.9 310.0 726.9 312.0 726.9 314.0 726.9 316.0 726.9 318.0 726.8 320.0 726.8 322.0 726.8 324.0 726.8 326.0 726.8 328.0 726.8 330.0 726.7 332.0 726.7 334.0 726.7 336.0 726.7 338.0 726.7 340.0 726.7 342.0 726.7 344.0 726.7 346.0 726.7 348.0 726.7 350.0 726.6 352.0 726.6 354.0 726.6 356.0 726.6 358.0 726.6 360.0 726.6 362.0 726.6 364.0 726.6 366.0 726.6 368.0 726.6 370.0 726.6 372.0 726.5 374.0 726.5 376.0 726.5 378.0 726.5 380.0 726.5 382.0 726.5 384.0 726.5 386.0 726.5 388.0 726.5 390.0 726.5 392.0 726.6 394.0 726.6 396.0 726.6 398.0 726.6 400.0 726.6 402.0 726.6 404.0 726.7 406.0 726.7 408.0 726.7 410.0 726.8 412.0 726.8 414.0 726.8 416.0 726.9 418.0 727.0 420.0 727.0 422.0 727.1 424.0 727.2 426.0 727.2 428.0 727.3 430.0 727.4 432.0 727.5 434.0 727.6 436.0 727.7 438.0 727.8 440.0 727.9 442.0 728.0 444.0 728.1 446.0 728.2 448.0 728.3 450.0 728.4 452.0 728.5 454.0 728.7 455.9 728.8 457.9 728.9 459.9 729.0 461.9 729.2 463.9 729.3 465.9 729.5 467.9 729.6 469.9 729.8 471.9 730.0 473.9 730.1 475.9 730.3 477.9 730.5 479.9 730.7 481.9 730.8 483.9 731.0 485.8 731.2 487.8 731.4 489.8 731.6 491.8 731.8 493.8 732.0 495.8 732.3 497.8 732.5 499.8 732.7 501.8 732.8 503.8 733.0 505.7 733.2 507.7 733.4 509.7 733.5 511.7 733.7 513.7 733.8 515.7 734.0 517.7 734.2 519.7 734.3 521.7 734.5 523.7 734.6 525.7 734.8 527.7 734.9 529.7 735.1 531.7 735.2 533.7 735.4 535.7 735.6 537.6 735.7 539.6 735.9 541.6 736.0 543.6 736.2 545.6 736.4 547.6 736.5 549.6 736.7 551.6 736.9 553.6 737.0 555.6 737.2 557.6 737.4 559.6 737.5 561.6 737.7 563.6 737.8 565.6 738.0 567.5 738.1 569.5 738.3 571.5 738.4 573.5 738.5 575.5 738.6 577.5 738.8 579.5 738.9 581.5 739.0 583.5 739.1 585.5 739.1 587.5 739.2 589.5 739.3 591.5 739.4 593.5 739.4 595.5 739.5 597.5 739.6 599.5 739.6 601.5 739.7 603.5 739.7 605.5 739.8 607.5 739.8 609.5 739.8 611.5 739.9 613.5 739.9 615.5 740.0 617.5 740.0 619.5 740.0 621.5 740.1 623.5 740.1 625.5 740.1 627.5 740.2 629.5 740.2 631.5 740.2 633.5 740.3 635.5 740.3 637.5 740.3 639.5 740.4 641.5 740.4 643.5 740.4 645.5 740.5 647.5 740.5 649.5 740.4 651.5 740.4 653.5 740.3 655.5 740.2 657.5 740.0 659.5 739.9 661.5 739.7 663.5 739.5 665.5 739.3 667.4 739.1 669.4 738.9 671.4 738.7 673.4 738.5 675.4 738.3 677.4 738.0 679.4 737.8 681.4 737.6 683.3 737.3 685.3 737.1 687.3 736.9 689.3 736.6 691.3 736.3 693.3 736.1 695.3 735.8 697.2 735.6 699.2 735.3 701.2 735.1 703.2 734.8 705.2 734.5 707.2 734.3 709.1 734.0 711.1 733.8 713.1 733.6 715.1 733.3 717.1 733.1 719.1 732.8 721.0 732.6 723.0 732.3 725.0 732.1 727.0 731.8 729.0 731.6 731.0 731.4 733.0 731.1 734.9 730.8 736.9 730.6 738.9 730.3 740.9 730.1 742.9 729.8 744.9 729.6 746.8 729.3 748.8 729.1 750.8 728.8 752.8 728.6 754.8 728.3 756.8 728.1 758.7 727.8 760.7 727.6 762.7 727.3 764.7 727.1 766.7 726.9 768.7 726.7 770.7 726.6 772.7 726.4 774.7 726.4 776.7 726.3 778.7 726.3 780.7 726.3 782.7 726.2 784.7 726.2 786.7 726.2 788.7 726.2 790.7 726.2 792.7 726.3 794.7 726.3 796.7 726.3 798.7 726.3 800.7 726.3 802.7 726.3 804.7 726.3 806.7 726.3 808.7 726.3 810.7 726.3 812.7 726.3 814.7 726.3 816.7 726.3 818.7 726.3 820.7 726.3 822.7 726.3 824.7 726.3 826.7 726.3 828.7 726.3 830.7 726.3 832.7 726.3 834.7 726.3 836.7 726.3 838.7 726.3 840.7 726.3 842.7 726.3 844.7 726.3 846.7 726.3 848.7 726.3 850.7 726.3 852.7 726.3 854.7 726.3 856.7 726.3 858.7 726.3 860.7 726.3 862.7 726.3 864.7 726.3 866.7 726.2 868.7 726.2 870.7 726.2 872.7 726.2 874.7 726.2 876.7 726.2 878.7 726.2 880.7 726.2 882.7 726.2 884.7 726.2 886.7 726.2 888.7 726.2 890.7 726.2 892.7 726.2 894.7 726.1 896.7 726.1 898.7 726.1 900.7 726.1 902.6 726.1 904.6 726.1 905.5 726.1" stroke="#000"/>
<path d="M936.0 720.4L938.0 720.4 940.0 720.5 942.0 720.5 944.0 720.5 946.0 720.6 948.0 720.6 950.0 720.7 952.0 720.8 954.0 720.9 956.0 721.1 958.0 721.3 960.0 721.5 961.9 721.8 963.9 722.1 965.9 722.4 967.8 722.8 969.8 723.3 971.7 723.7 973.7 724.3 975.6 724.8 977.5 725.5 979.3 726.2 981.2 726.9 983.0 727.8 984.8 728.6 986.6 729.5 988.4 730.4 990.2 731.3 992.0 732.2 993.8 733.1 995.5 734.1 997.2 735.0 999.0 736.0 1000.8 736.8 1002.7 737.5 1004.6 737.9 1006.6 738.0 1008.5 737.9 1010.5 737.5 1012.4 737.0 1014.3 736.4 1016.2 735.8 1018.1 735.1 1020.0 734.5 1021.9 733.8 1023.8 733.2 1025.7 732.6 1027.6 732.0 1029.5 731.3 1031.4 730.7 1033.3 730.0 1035.2 729.4 1037.1 728.8 1039.0 728.2 1040.9 727.7 1042.9 727.2 1044.8 726.8 1046.8 726.5 1048.8 726.2 1050.8 725.9 1052.7 725.7 1054.7 725.6 1056.7 725.4 1058.7 725.3 1060.7 725.2 1062.7 725.2 1064.7 725.1 1066.7 725.1 1068.7 725.0 1070.7 725.0 1072.7 725.0 1074.7 725.1 1076.7 725.2 1078.7 725.4 1080.7 725.7 1082.6 726.2 1084.5 726.7 1086.4 727.3 1088.3 728.0 1090.2 728.7 1092.0 729.5 1093.9 730.3 1095.7 731.1 1097.5 731.9 1099.4 732.6 1101.3 733.3 1103.2 734.0 1105.0 734.6 1106.9 735.3 1108.8 735.9 1110.7 736.5 1112.6 737.2 1114.4 738.0 1116.2 738.9 1118.0 739.9 1119.6 740.9 1121.4 741.8 1123.1 742.2 1124.9 742.0 1126.7 741.2 1128.2 740.1 1129.7 738.7 1131.0 737.3 1132.3 735.8 1133.8 734.6 1135.5 733.6 1137.3 732.7 1139.2 732.1 1141.1 731.6 1143.0 731.5 1144.7 732.0 1146.2 733.1 1147.4 734.5 1148.4 736.1 1149.6 737.3 1150.9 737.7 1152.2 737.2 1153.4 735.9 1154.5 734.3 1155.7 732.8 1157.2 731.4 1158.8 730.3 1160.5 729.3 1162.3 728.5 1164.2 727.8 1166.1 727.3 1168.0 726.9 1170.0 726.5 1172.0 726.3 1174.0 726.1 1176.0 726.0 1178.0 725.9 1180.0 725.8 1182.0 725.7 1184.0 725.7 1186.0 725.6 1188.0 725.6 1190.0 725.5 1192.0 725.4 1194.0 725.3 1196.0 725.2 1198.0 725.0 1200.0 724.9 1202.0 724.8 1204.0 724.7 1205.9 724.6 1207.9 724.6 1209.9 724.6 1211.9 724.7 1213.9 725.1 1215.8 725.6 1217.6 726.4 1219.3 727.2 1221.0 727.7 1222.6 727.6 1224.0 726.7 1225.4 725.5 1226.9 724.4 1228.7 723.7 1230.6 723.3 1232.6 723.1 1234.6 723.0 1236.6 723.0 1238.6 722.9 1240.6 723.0 1242.6 723.0 1244.6 723.0 1246.6 723.1 1248.6 723.2 1250.6 723.2 1252.6 723.3 1254.6 723.4 1256.6 723.5 1258.6 723.5 1260.6 723.6 1262.6 723.7 1264.6 723.8 1266.6 723.9 1268.6 724.0 1270.6 724.0 1272.6 724.1 1274.6 724.2 1276.6 724.3 1278.5 724.3 1280.5 724.5 1282.5 724.6 1284.5 724.8 1286.5 725.0 1288.5 725.3 1290.4 725.8 1292.2 726.5 1294.0 727.4 1295.6 728.5 1297.3 729.5 1299.2 730.2 1301.1 730.8 1303.0 731.1 1305.0 731.2 1307.0 731.4 1309.0 731.4 1311.0 731.5 1313.0 731.5 1315.0 731.5 1317.0 731.5 1319.0 731.5 1321.0 731.5 1323.0 731.5 1325.0 731.5 1327.0 731.6 1329.0 731.6 1331.0 731.7 1333.0 731.8 1335.0 731.9 1337.0 732.0 1339.0 732.1 1341.0 732.2 1343.0 732.3 1345.0 732.5 1347.0 732.6 1349.0 732.8 1350.9 733.1 1352.9 733.5 1354.8 734.0 1356.7 734.7 1358.5 735.5 1360.4 736.1 1362.3 736.6 1364.2 736.6 1366.1 736.1 1367.9 735.4 1369.7 734.5 1371.4 733.5 1373.1 732.5 1374.7 731.3 1376.4 730.2 1378.0 729.1 1379.7 728.0 1381.5 727.0 1383.3 726.2 1385.1 725.5 1387.1 725.0 1389.0 724.5 1391.0 724.1 1392.9 723.8 1394.9 723.6 1396.9 723.4 1398.9 723.2 1400.9 723.1 1402.9 723.0 1404.9 723.0 1406.9 723.0 1408.9 723.0 1410.9 723.1 1412.9 723.1 1414.9 723.2 1416.9 723.3 1418.9 723.4 1420.9 723.5 1422.9 723.7 1424.8 724.0 1426.8 724.4 1428.7 725.0 1430.6 725.6 1432.5 726.3 1434.3 727.0 1436.2 727.8 1438.0 728.6 1439.8 729.4 1441.7 730.2 1443.5 731.1 1445.2 732.0 1446.9 733.1 1448.4 734.3 1449.9 735.7 1451.3 737.1 1452.6 738.6 1454.0 740.0 1455.5 741.3 1457.1 742.5 1458.8 743.6 1460.6 744.5 1462.4 745.3 1464.2 746.1 1466.1 746.8 1468.0 747.6 1469.8 748.3 1471.7 749.1 1473.5 749.8 1475.4 750.6 1477.2 751.4 1479.0 752.3 1480.7 753.2 1482.4 754.3 1483.9 755.6 1485.2 757.1 1486.5 758.6 1487.8 760.1 1489.1 761.7 1490.4 763.2 1491.7 764.7 1493.0 766.2 1494.4 767.7 1495.7 769.1 1497.1 770.6 1498.5 772.0 1500.0 773.4 1501.4 774.8 1502.8 776.2 1504.2 777.6 1505.6 779.0 1507.1 780.4 1508.4 781.9 1509.8 783.3 1511.2 784.8 1512.5 786.3 1513.8 787.8 1515.0 789.4 1516.2 791.0 1517.2 792.7 1518.3 794.4 1519.2 796.2 1520.2 797.9 1521.2 799.6 1522.2 801.4 1523.2 803.1 1524.1 804.9 1525.0 806.7 1525.8 808.5 1526.6 810.4 1527.3 812.2 1528.0 814.1 1528.8 815.9 1529.5 817.8 1530.2 819.7 1530.8 821.6 1531.5 823.5 1532.2 825.3 1532.8 827.2 1533.5 829.1 1534.1 831.0 1534.8 832.9 1535.4 834.8 1536.0 836.7 1536.6 838.6 1537.2 840.5 1537.7 842.5 1538.3 844.4 1538.8 846.3 1539.3 848.3 1539.8 850.2 1540.2 852.1 1540.7 854.1 1541.1 856.0 1541.5 858.0 1542.0 859.9 1542.4 861.9 1542.8 863.9 1543.2 865.8 1543.7 867.8 1544.1 869.7 1544.5 871.7 1545.0 873.6 1545.4 875.6 1545.9 877.5 1546.3 879.5 1546.7 881.4 1547.1 883.4 1547.5 885.3 1547.9 887.3 1548.2 889.3 1548.5 891.3 1548.8 893.2 1549.1 895.2 1549.4 897.2 1549.7 899.2 1550.0 901.1 1550.3 903.1 1550.6 905.1 1550.9 907.1 1551.1 909.1 1551.4 911.1 1551.7 913.0 1551.9 915.0 1552.2 917.0 1552.5 919.0 1552.8 921.0 1553.0 922.9 1553.3 924.9 1553.6 926.9 1553.8 928.9 1554.1 930.9 1554.3 932.9 1554.6 934.8 1554.8 936.8 1555.1 938.8 1555.3 940.8 1555.6 942.8 1555.8 944.8 1556.0 946.8 1556.2 948.7 1556.4 950.7 1556.6 952.7 1556.9 954.7 1557.1 956.7 1557.3 958.7 1557.5 960.7 1557.8 962.7 1558.0 964.6 1558.3 966.6 1558.5 968.6 1558.7 970.6 1559.0 972.6 1559.2 974.6 1559.5 976.6 1559.7 978.5 1559.9 980.5 1560.2 982.5 1560.4 984.5 1560.6 986.5 1560.8 988.5 1561.0 990.5 1561.2 992.5 1561.5 994.4 1561.7 996.4 1561.9 998.4 1562.1 1000.4 1562.4 1002.4 1562.6 1004.4 1562.9 1006.4 1563.1 1008.3 1563.4 1010.3 1563.6 1012.3 1563.9 1014.3 1564.1 1016.3 1564.4 1018.3 1564.7 1020.2 1564.9 1022.2 1565.2 1024.2 1565.4 1026.2 1565.7 1028.2 1565.9 1030.2 1566.2 1032.1 1566.5 1034.1 1566.7 1036.1 1567.0 1038.1 1567.3 1040.1 1567.5 1042.1 1567.8 1044.0 1568.0 1046.0 1568.3 1048.0 1568.6 1050.0 1568.8 1052.0 1569.1 1054.0 1569.4 1055.9 1569.7 1057.9 1570.0 1059.9 1570.3 1061.9 1570.6 1063.8 1571.0 1065.8 1571.3 1067.8 1571.7 1069.7 1572.0 1071.7 1572.4 1073.7 1572.8 1075.6 1573.1 1077.6 1573.5 1079.6 1573.9 1081.5 1574.3 1083.5 1574.6 1085.5 1575.0 1087.4 1575.4 1089.4 1575.8 1091.3 1576.2 1093.3 1576.6 1095.3 1577.0 1097.2 1577.4 1099.2 1577.7 1101.2 1578.1 1103.1 1578.4 1105.1 1578.7 1107.1 1579.1 1109.0 1579.5 1111.0 1579.8 1113.0 1580.2 1114.9 1580.6 1116.9 1581.0 1118.9 1581.3 1120.8 1581.7 1122.8 1582.2 1124.8 1582.6 1126.7 1583.1 1128.6 1583.6 1130.6 1584.1 1132.5 1584.7 1134.4 1585.3 1136.3 1586.0 1138.2 1586.6 1140.1 1587.3 1142.0 1588.0 1143.8 1588.7 1145.7 1589.5 1147.6 1590.2 1149.4 1591.0 1151.3 1591.7 1153.1 1592.5 1155.0 1593.3 1156.8 1594.1 1158.6 1594.9 1160.5 1595.8 1162.3 1596.6 1164.1 1597.5 1165.9 1598.4 1167.7 1599.4 1169.4 1600.4 1171.1 1601.4 1172.9 1602.5 1174.6 1603.6 1176.2 1604.7 1177.9 1605.8 1179.6 1606.9 1181.2 1608.0 1182.9 1609.2 1184.5 1610.4 1186.1 1611.7 1187.6 1613.0 1189.1 1614.4 1190.6 1615.8 1192.0 1617.2 1193.4 1618.7 1194.7 1620.3 1196.0 1621.9 1197.1 1623.6 1198.2 1625.3 1199.2 1627.1 1200.1 1628.9 1200.9 1630.7 1201.7 1632.6 1202.2 1634.6 1202.5 1636.5 1202.5 1638.5 1202.2 1640.5 1201.9 1642.4 1201.4 1644.3 1200.7 1646.1 1199.8 1647.7 1198.8 1649.3 1197.6 1650.7 1196.1 1651.9 1194.6 1653.0 1192.9 1654.0 1191.2 1654.9 1189.4 1655.7 1187.6 1656.5 1185.8 1657.3 1183.9 1657.9 1182.0 1658.5 1180.1 1659.1 1178.2 1659.7 1176.3 1660.2 1174.4 1660.7 1172.4 1661.2 1170.5 1661.7 1168.6 1662.2 1166.6 1662.6 1164.7 1663.1 1162.7 1663.5 1160.8 1664.0 1158.8 1664.4 1156.9 1664.8 1154.9 1665.2 1153.0 1665.6 1151.0 1666.0 1149.0 1666.4 1147.1 1666.8 1145.1 1667.1 1143.1 1667.5 1141.2 1667.8 1139.2 1668.2 1137.2 1668.5 1135.3 1668.8 1133.3 1669.1 1131.3 1669.4 1129.3 1669.7 1127.4 1670.0 1125.4 1670.3 1123.4 1670.6 1121.4 1670.9 1119.4 1671.1 1117.4 1671.4 1115.5 1671.6 1113.5 1671.8 1111.5 1672.0 1109.5 1672.2 1107.5 1672.4 1105.5 1672.6 1103.5 1672.8 1101.5 1673.0 1099.6 1673.2 1097.6 1673.4 1095.6 1673.6 1093.6 1673.8 1091.6 1673.9 1089.6 1674.1 1087.6 1674.3 1085.6 1674.5 1083.6 1674.7 1081.6 1674.9 1079.6 1675.1 1077.6 1675.2 1075.7 1675.4 1073.7 1675.6 1071.7 1675.8 1069.7 1676.0 1067.7 1676.2 1065.7 1676.3 1063.7 1676.5 1061.7 1676.7 1059.7 1676.9 1057.7 1677.0 1055.7 1677.2 1053.7 1677.4 1051.7 1677.5 1049.8 1677.7 1047.8 1677.8 1045.8 1678.0 1043.8 1678.1 1041.8 1678.2 1039.8 1678.4 1037.8 1678.5 1035.8 1678.6 1033.8 1678.7 1031.8 1678.9 1029.8 1679.0 1027.8 1679.1 1025.8 1679.2 1023.8 1679.3 1021.8 1679.5 1019.8 1679.6 1017.8 1679.7 1015.8 1679.8 1013.8 1679.9 1011.8 1680.1 1009.8 1680.2 1007.8 1680.3 1005.8 1680.4 1003.8 1680.5 1001.8 1680.6 999.9 1680.7 997.9 1680.9 995.9 1681.0 993.9 1681.1 991.9 1681.2 989.9 1681.3 987.9 1681.4 985.9 1681.6 983.9 1681.7 981.9 1681.8 979.9 1681.9 977.9 1682.0 975.9 1682.2 973.9 1682.3 971.9 1682.4 969.9 1682.5 967.9 1682.7 965.9 1682.8 963.9 1682.9 961.9 1683.1 959.9 1683.3 957.9 1683.5 955.9 1683.7 954.0 1683.9 952.0 1684.1 950.0 1684.4 948.0 1684.7 946.0 1685.0 944.1 1685.4 942.1 1685.8 940.2 1686.4 938.4 1687.3 937.1 1688.3 936.7 1689.2 937.5 1689.8 939.0 1690.2 940.9 1690.4 942.8 1690.6 944.8 1690.7 946.8 1690.9 948.8 1691.0 950.8 1691.1 952.8 1691.2 954.8 1691.4 956.8 1691.5 958.8 1691.6 960.8 1691.7 962.8 1691.8 964.8 1691.9 966.8 1692.0 968.8 1692.1 970.8 1692.2 972.8 1692.2 974.8 1692.3 976.8 1692.4 978.8 1692.5 980.8 1692.6 982.8 1692.7 984.8 1692.7 986.8 1692.8 988.8 1692.9 990.8 1693.0 992.8 1693.0 994.8 1693.1 996.8 1693.1 998.8 1693.2 1000.8 1693.3 1002.8 1693.3 1004.8 1693.4 1006.8 1693.4 1008.8 1693.5 1010.8 1693.6 1012.8 1693.6 1014.8 1693.7 1016.8 1693.7 1018.8 1693.8 1020.8 1693.9 1022.8 1693.9 1024.8 1694.0 1026.8 1694.0 1028.8 1694.1 1030.8 1694.2 1032.8 1694.2 1034.8 1694.3 1036.8 1694.3 1038.7 1694.4 1040.7 1694.5 1042.7 1694.5 1044.7 1694.6 1046.7 1694.6 1048.7 1694.7 1050.7 1694.7 1052.7 1694.8 1054.7 1694.9 1056.7 1694.9 1058.7 1695.0 1060.7 1695.0 1062.7 1695.1 1064.7 1695.2 1066.7 1695.2 1068.7 1695.3 1070.7 1695.3 1072.7 1695.4 1074.7 1695.5 1076.7 1695.5 1078.7 1695.6 1080.7 1695.6 1082.7 1695.7 1084.7 1695.8 1086.7 1695.8 1088.7 1695.9 1090.7 1695.9 1092.7 1696.0 1094.7 1696.0 1096.7 1696.1 1098.7 1696.2 1100.7 1696.2 1102.7 1696.3 1104.7 1696.3 1106.7 1696.4 1108.7 1696.4 1110.7 1696.5 1112.7 1696.6 1114.7 1696.6 1116.7 1696.7 1118.7 1696.8 1120.7 1696.8 1122.7 1696.9 1124.7 1697.0 1126.7 1697.1 1128.7 1697.1 1130.7 1697.2 1132.7 1697.3 1134.7 1697.4 1136.7 1697.5 1138.7 1697.6 1140.7 1697.7 1142.7 1697.8 1144.7 1697.9 1146.7 1698.0 1148.7 1698.1 1150.7 1698.2 1152.7 1698.3 1154.7 1698.4 1156.7 1698.5 1158.7 1698.6 1160.7 1698.8 1162.7 1698.9 1164.7 1699.1 1166.7 1699.2 1168.6 1699.4 1170.6 1699.6 1172.6 1699.9 1174.6 1700.1 1176.6 1700.4 1178.6 1700.7 1180.5 1701.1 1182.5 1701.6 1184.5 1702.1 1186.4 1702.7 1188.3 1703.5 1190.1 1704.4 1191.9 1705.4 1193.5 1706.7 1195.0 1708.2 1196.2 1709.9 1197.1 1711.7 1197.4 1713.6 1197.2 1715.4 1196.5 1717.2 1195.6 1718.9 1194.6 1720.5 1193.5 1722.2 1192.3 1723.7 1191.1 1725.3 1189.9 1726.9 1188.6 1728.4 1187.4 1729.5 1186.5" stroke="#000"/>
</g>
<g fill="#000"><rect x="904.2" y="91.3" width="5.5" height="5.5"/><rect x="934.2" y="91.3" width="5.5" height="5.5"/><rect x="904.2" y="115.8" width="5.5" height="5.5"/><rect x="934.2" y="115.8" width="5.5" height="5.5"/><rect x="904.2" y="140.2" width="5.5" height="5.5"/><rect x="934.2" y="140.2" width="5.5" height="5.5"/><rect x="904.2" y="164.6" width="5.5" height="5.5"/><rect x="934.2" y="164.6" width="5.5" height="5.5"/><rect x="904.2" y="189.1" width="5.5" height="5.5"/><rect x="934.2" y="189.1" width="5.5" height="5.5"/><rect x="904.2" y="213.6" width="5.5" height="5.5"/><rect x="934.2" y="213.6" width="5.5" height="5.5"/><rect x="904.2" y="238.0" width="5.5" height="5.5"/><rect x="934.2" y="238.0" width="5.5" height="5.5"/><rect x="904.2" y="262.4" width="5.5" height="5.5"/><rect x="934.2" y="262.4" width="5.5" height="5.5"/><rect x="904.2" y="286.9" width="5.5" height="5.5"/><rect x="934.2" y="286.9" width="5.5" height="5.5"/><rect x="904.2" y="311.3" width="5.5" height="5.5"/><rect x="934.2" y="311.3" width="5.5" height="5.5"/><rect x="904.2" y="335.8" width="5.5" height="5.5"/><rect x="934.2" y="335.8" width="5.5" height="5.5"/><rect x="904.2" y="360.2" width="5.5" height="5.5"/><rect x="934.2" y="360.2" width="5.5" height="5.5"/><rect x="904.2" y="384.7" width="5.5" height="5.5"/><rect x="934.2" y="384.7" width="5.5" height="5.5"/><rect x="904.2" y="409.1" width="5.5" height="5.5"/><rect x="934.2" y="409.1" width="5.5" height="5.5"/><rect x="904.2" y="433.6" width="5.5" height="5.5"/><rect x="934.2" y="433.6" width="5.5" height="5.5"/><rect x="904.2" y="458.1" width="5.5" height="5.5"/><rect x="934.2" y="458.1" width="5.5" height="5.5"/><rect x="904.2" y="482.5" width="5.5" height="5.5"/><rect x="934.2" y="482.5" width="5.5" height="5.5"/><rect x="904.2" y="506.9" width="5.5" height="5.5"/><rect x="934.2" y="506.9" width="5.5" height="5.5"/><rect x="904.2" y="531.4" width="5.5" height="5.5"/><rect x="934.2" y="531.4" width="5.5" height="5.5"/><rect x="904.2" y="555.9" width="5.5" height="5.5"/><rect x="934.2" y="555.9" width="5.5" height="5.5"/><rect x="904.2" y="580.3" width="5.5" height="5.5"/><rect x="934.2" y="580.3" width="5.5" height="5.5"/><rect x="904.2" y="604.7" width="5.5" height="5.5"/><rect x="934.2" y="604.7" width="5.5" height="5.5"/><rect x="904.2" y="629.2" width="5.5" height="5.5"/><rect x="934.2" y="629.2" width="5.5" height="5.5"/><rect x="904.2" y="653.6" width="5.5" height="5.5"/><rect x="934.2" y="653.6" width="5.5" height="5.5"/><rect x="904.2" y="678.1" width="5.5" height="5.5"/><rect x="934.2" y="678.1" width="5.5" height="5.5"/><rect x="904.2" y="702.5" width="5.5" height="5.5"/><rect x="934.2" y="702.5" width="5.5" height="5.5"/><rect x="904.2" y="727.0" width="5.5" height="5.5"/><rect x="934.2" y="727.0" width="5.5" height="5.5"/><rect x="904.2" y="751.4" width="5.5" height="5.5"/><rect x="934.2" y="751.4" width="5.5" height="5.5"/><rect x="904.2" y="775.9" width="5.5" height="5.5"/><rect x="934.2" y="775.9" width="5.5" height="5.5"/><rect x="904.2" y="800.3" width="5.5" height="5.5"/><rect x="934.2" y="800.3" width="5.5" height="5.5"/><rect x="904.2" y="824.8" width="5.5" height="5.5"/><rect x="934.2" y="824.8" width="5.5" height="5.5"/><rect x="904.2" y="849.2" width="5.5" height="5.5"/><rect x="934.2" y="849.2" width="5.5" height="5.5"/><rect x="904.2" y="873.7" width="5.5" height="5.5"/><rect x="934.2" y="873.7" width="5.5" height="5.5"/><rect x="904.2" y="898.1" width="5.5" height="5.5"/><rect x="934.2" y="898.1" width="5.5" height="5.5"/><rect x="904.2" y="922.6" width="5.5" height="5.5"/><rect x="934.2" y="922.6" width="5.5" height="5.5"/><rect x="904.2" y="947.0" width="5.5" height="5.5"/><rect x="934.2" y="947.0" width="5.5" height="5.5"/><rect x="904.2" y="971.5" width="5.5" height="5.5"/><rect x="934.2" y="971.5" width="5.5" height="5.5"/><rect x="904.2" y="995.9" width="5.5" height="5.5"/><rect x="934.2" y="995.9" width="5.5" height="5.5"/><rect x="904.2" y="1020.4" width="5.5" height="5.5"/><rect x="934.2" y="1020.4" width="5.5" height="5.5"/><rect x="904.2" y="1044.8" width="5.5" height="5.5"/><rect x="934.2" y="1044.8" width="5.5" height="5.5"/><rect x="904.2" y="1069.3" width="5.5" height="5.5"/><rect x="934.2" y="1069.3" width="5.5" height="5.5"/><rect x="904.2" y="1093.8" width="5.5" height="5.5"/><rect x="934.2" y="1093.8" width="5.5" height="5.5"/><rect x="904.2" y="1118.2" width="5.5" height="5.5"/><rect x="934.2" y="1118.2" width="5.5" height="5.5"/><rect x="904.2" y="1142.6" width="5.5" height="5.5"/><rect x="934.2" y="1142.6" width="5.5" height="5.5"/><rect x="904.2" y="1167.1" width="5.5" height="5.5"/><rect x="934.2" y="1167.1" width="5.5" height="5.5"/><rect x="904.2" y="1191.5" width="5.5" height="5.5"/><rect x="934.2" y="1191.5" width="5.5" height="5.5"/><rect x="904.2" y="1216.0" width="5.5" height="5.5"/><rect x="934.2" y="1216.0" width="5.5" height="5.5"/>
</g>
<!-- frame -->
<g fill="#000">
<rect x="113" y="40" width="792" height="2" fill="#666"/>
<rect x="937" y="40" width="793" height="2" fill="#666"/>
<rect x="1728" y="42" width="1" height="1191" fill="#333"/>
<rect x="113" y="1231" width="792" height="2" fill="#444"/>
<rect x="937" y="1231" width="792" height="2" fill="#444"/>
<rect x="111" y="42" width="794" height="3"/>
<rect x="937" y="42" width="796" height="3"/>
<rect x="111" y="41" width="5" height="1218.5"/>
<rect x="1729" y="41" width="4" height="1195"/>
<rect x="111" y="1233" width="794" height="3"/>
<rect x="937" y="1233" width="796" height="3"/>
<rect x="578.7" y="1234" width="3.6" height="26"/><rect x="1081.7" y="1234" width="3.6" height="26"/><rect x="1376.5" y="1234" width="3.6" height="26"/><rect x="1670.0" y="1234" width="3.6" height="26"/><rect x="344.8" y="1234" width="3.2" height="13.2"/><rect x="811.7" y="1234" width="5.0" height="13.2"/><rect x="1229.4" y="1234" width="3.6" height="13.2"/><rect x="1523.2" y="1234" width="3.6" height="13.2"/>
</g>
<g stroke="#000" stroke-width="2.6" fill="none">
<line x1="894.5" y1="17.5" x2="921.5" y2="68.5"/>
<line x1="922" y1="17.5" x2="949.5" y2="68.5"/>
<line x1="893.2" y1="1209" x2="922.5" y2="1259.5"/>
<line x1="921.8" y1="1209" x2="951.5" y2="1259.5"/>
</g>
<g font-size="50"><text transform="translate(112.0 1312) scale(1 1.035)" text-anchor="middle">4000</text><text transform="translate(580.5 1312) scale(1 1.035)" text-anchor="middle">3500</text><text transform="translate(1083.5 1312) scale(1 1.035)" text-anchor="middle">1500</text><text transform="translate(1378.3 1312) scale(1 1.035)" text-anchor="middle">1000</text><text transform="translate(1671.8 1312) scale(1 1.035)" text-anchor="middle">500</text></g>
<!-- legend -->
<rect x="120.3" y="951.2" width="507.2" height="256.1" fill="#fff" stroke="#000" stroke-width="2.6"/>
<g stroke-width="5.5">
<line x1="127.6" y1="996" x2="282.1" y2="996" stroke="#0707aa"/>
<line x1="127.6" y1="1078.8" x2="282.1" y2="1078.8" stroke="#e81212"/>
<line x1="127.6" y1="1160.6" x2="282.1" y2="1160.6" stroke="#000"/>
</g>
<g font-size="67.5">
<text transform="translate(296.5 1020.4) scale(1 1.03)">BT_H_900</text>
<text transform="translate(296.5 1102.2) scale(1 1.03)">BT_900</text>
<text transform="translate(296.5 1183.4) scale(1 1.03)">BT_Comm</text>
</g>
<text transform="translate(656 1415.3) scale(1 1.045)" font-size="62">Wavenumber [cm</text>
<text transform="translate(1137.1 1385.3) scale(1 1.05)" font-size="38">-<tspan dx="2.6">1</tspan></text>
<text transform="translate(1171.3 1415.3) scale(1 0.985)" font-size="62">]</text>
<text transform="translate(61.7 637) rotate(-90) scale(1 1.035)" text-anchor="middle" font-size="61.5">Intensity [a.u.]</text>
</svg>
</body></html>
